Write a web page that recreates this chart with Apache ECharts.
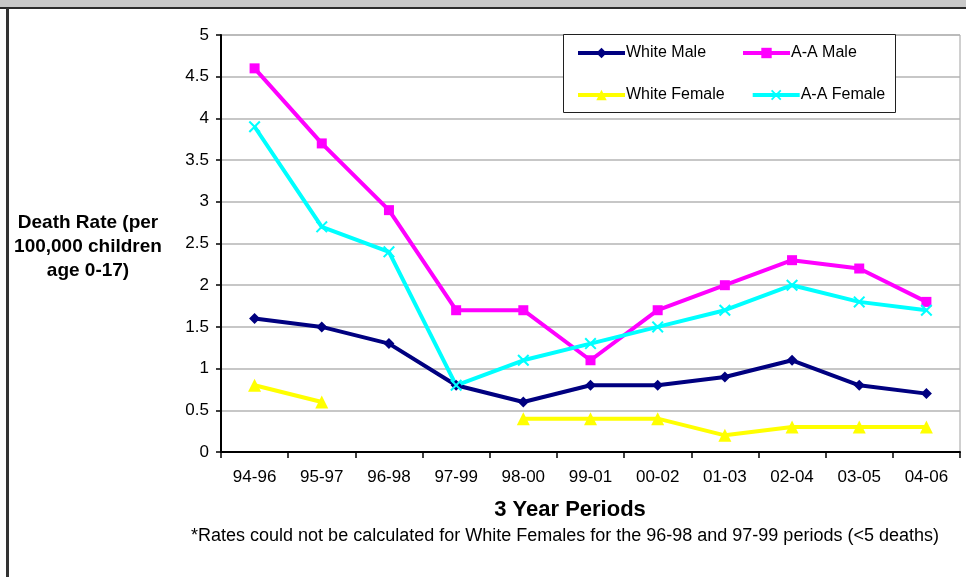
<!DOCTYPE html>
<html>
<head>
<meta charset="utf-8">
<script src="https://cdn.jsdelivr.net/npm/echarts@6/dist/echarts.min.js"></script>
<style>
  html, body { margin: 0; padding: 0; background: #ffffff; }
  #chart { width: 966px; height: 577px; }
</style>
</head>
<body>
<div id="chart"></div>
<script>
// Three-year periods on the x axis
const periods = ['94-96', '95-97', '96-98', '97-99', '98-00', '99-01', '00-02', '01-03', '02-04', '03-05', '04-06'];

// Death rates per 100,000 children age 0-17
const whiteMale    = [1.6, 1.5, 1.3, 0.8, 0.6, 0.8, 0.8, 0.9, 1.1, 0.8, 0.7];
const aaMale       = [4.6, 3.7, 2.9, 1.7, 1.7, 1.1, 1.7, 2.0, 2.3, 2.2, 1.8];
// No rate for 96-98 and 97-99 (fewer than 5 deaths)
const whiteFemale  = [0.8, 0.6, null, null, 0.4, 0.4, 0.4, 0.2, 0.3, 0.3, 0.3];
const aaFemale     = [3.9, 2.7, 2.4, 0.8, 1.1, 1.3, 1.5, 1.7, 2.0, 1.8, 1.7];

const seriesNames = ['White Male', 'A-A Male', 'White Female', 'A-A Female'];

const FONT = "'Liberation Sans', Arial, sans-serif";
const crossSymbol = 'path://M0,1.2 L1.2,0 L5,3.8 L8.8,0 L10,1.2 L6.2,5 L10,8.8 L8.8,10 L5,6.2 L1.2,10 L0,8.8 L3.8,5 Z';

function lineSeries(name, data, color, symbol, size) {
  return {
    name: name,
    type: 'line',
    data: data,
    symbol: symbol,
    symbolSize: size,
    showAllSymbol: true,
    connectNulls: false,
    lineStyle: { color: color, width: 4 },
    itemStyle: { color: color },
    emphasis: { disabled: true },
    z: 3
  };
}

const chart = echarts.init(document.getElementById('chart'), null, { renderer: 'canvas' });

chart.setOption({
  animation: false,
  backgroundColor: '#ffffff',
  grid: {
    left: 221, right: 6, top: 35, bottom: 125,
    show: true, borderColor: '#a0a0a0', borderWidth: 1,
    backgroundColor: 'transparent'
  },
  legend: {
    data: seriesNames,
    left: 576, top: 45,
    width: 320,
    itemWidth: 47, itemHeight: 13,
    itemGap: 26,
    padding: 0,
    lineStyle: { width: 4 },
    backgroundColor: 'transparent',
    textStyle: { fontFamily: FONT, fontSize: 16, color: '#000', width: 89, lineHeight: 14, padding: [0, 0, 0, -4] },
    z: 10
  },
  xAxis: {
    type: 'category',
    data: periods,
    boundaryGap: true,
    axisLine: { lineStyle: { color: '#000', width: 2 } },
    axisTick: { show: true, length: 6, lineStyle: { color: '#000', width: 1.5 } },
    axisLabel: { fontFamily: FONT, fontSize: 17, color: '#000', margin: 17 },
    splitLine: { show: false }
  },
  yAxis: {
    type: 'value',
    min: 0, max: 5, interval: 0.5,
    axisLine: { show: true, lineStyle: { color: '#000', width: 2 } },
    axisTick: { show: true, length: 5, lineStyle: { color: '#000', width: 1.5 } },
    axisLabel: { fontFamily: FONT, fontSize: 17, color: '#000', margin: 12 },
    splitLine: { show: true, lineStyle: { color: '#b4b4b4', width: 1.5 } }
  },
  series: [
    lineSeries('White Male', whiteMale, '#000080', 'diamond', 11),
    lineSeries('A-A Male', aaMale, '#ff00ff', 'rect', 10),
    lineSeries('White Female', whiteFemale, '#ffff00', 'triangle', 13),
    lineSeries('A-A Female', aaFemale, '#00ffff', crossSymbol, 12)
  ],
  graphic: [
    // frame: grey band at the top and dark rule lines
    { type: 'rect', shape: { x: 0, y: 0, width: 966, height: 7 }, style: { fill: '#c8c8c8' }, silent: true },
    { type: 'rect', shape: { x: 0, y: 7, width: 966, height: 2 }, style: { fill: '#2b2b2b' }, silent: true },
    { type: 'rect', shape: { x: 6, y: 8, width: 3, height: 569 }, style: { fill: '#333333' }, silent: true },
    // legend frame
    { type: 'rect', shape: { x: 563.5, y: 34.5, width: 332, height: 78 },
      style: { fill: '#ffffff', stroke: '#202020', lineWidth: 1 }, z: 5, silent: true },
    // y-axis title
    { type: 'text', x: 88, y: 211, silent: true,
      style: {
        text: 'Death Rate (per\n100,000 children\nage 0-17)',
        textAlign: 'center', textVerticalAlign: 'top',
        font: 'bold 19px ' + FONT, fill: '#000', lineHeight: 24
      } },
    // x-axis title
    { type: 'text', x: 570, y: 510, silent: true,
      style: {
        text: '3 Year Periods', textAlign: 'center', textVerticalAlign: 'middle',
        font: 'bold 22px ' + FONT, fill: '#000'
      } },
    // footnote
    { type: 'text', x: 565, y: 536, silent: true,
      style: {
        text: '*Rates could not be calculated for White Females for the 96-98 and 97-99 periods (<5 deaths)',
        textAlign: 'center', textVerticalAlign: 'middle',
        font: '18px ' + FONT, fill: '#000'
      } }
  ]
});
</script>
</body>
</html>
